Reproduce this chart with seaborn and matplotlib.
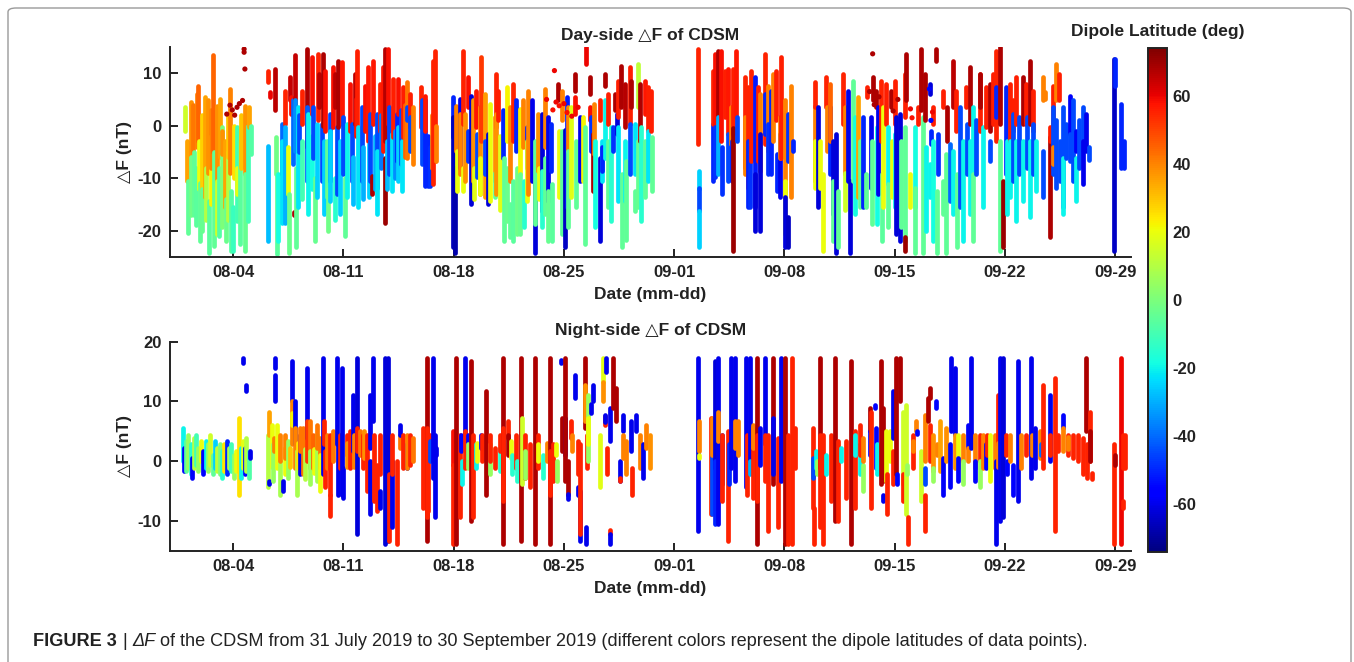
import numpy as np
import pandas as pd
import matplotlib
matplotlib.use("Agg")
import matplotlib.pyplot as plt
from matplotlib.colors import Normalize
from matplotlib.cm import ScalarMappable
from matplotlib.patches import FancyBboxPatch
import seaborn as sns

# ---------------- data (t = days since 2019-07-31, dF low, dF high, dipole latitude) ----------------
day_A = [
    (0.95, -1, 3.5, 15), (1.10, -10.5, -3, 35), (1.12, -20.4, -10.5, -5), (1.30, -10, 4.5, 38), (1.32, -17, -6, -2),
    (1.48, -5, 4, 42), (1.50, -17, -5, -5), (1.65, -19, -8, -6), (1.68, -4, 6, 40), (1.80, -3, 7.6, 45),
    (1.85, -12, -3, 20), (1.88, -22, -11, -5), (2.00, -13, 2, 28), (2.05, -20, -12, -4), (2.22, -13.7, 5.4, 35),
    (2.30, -18, -8, 10), (2.43, -9, 4.8, 38), (2.45, -24.2, -14.3, -6), (2.60, -15, -2, 22), (2.62, -8, 3, 40),
    (2.75, -5, 13.4, 45), (2.78, -23, -5, -5), (2.96, -10.5, 3.8, 38), (2.98, -20.7, -10.5, 15), (3.12, -21, -8, -7),
    (3.15, -6, 5, 35), (3.28, -19.4, -0.3, 0), (3.30, -5.4, -1, 38), (3.49, -15.6, -2.9, 35), (3.52, -22, -14, -3),
    (3.65, -18, -5, 10), (3.68, -6, 2, 30), (3.81, -9, 7, 40), (3.84, -24, -12.4, -7), (4.02, -23.9, -15.6, -12),
    (4.05, -10, 0, 25), (4.23, -18.2, -0.3, -10), (4.25, -13, -8, 18), (4.44, -22.6, -2.9, -6), (4.50, -8, 2, 30),
    (4.76, -9.2, 3.8, 38), (4.78, -23.9, -9.2, -4), (4.97, -18.2, 0, -10), (4.99, -0.3, 3.5, 35), (5.14, -5.4, 0, -7),
]
day_B = [
    (6.24, 8.3, 10.5, 55), (6.24, -22.0, -3.8, -28), (6.34, 5.5, 6.5, 60), (6.66, 2.9, 10.8, 66), (6.70, -9.2, -2.2, -2),
    (6.77, -24.5, -9.2, -6), (6.87, -22.0, -9.2, -18), (7.08, -9.2, 0.3, -40), (7.10, -18.5, -2.9, -22), (7.29, 0.3, 6.7, 55),
    (7.31, -18.5, -0.3, -30), (7.51, -13.1, -4.1, 20), (7.53, -24.2, -13.1, -3), (7.61, 4.8, 9.2, 65), (7.65, 2.2, 5.4, 58),
    (7.82, -7.3, 4.8, -40), (7.85, -17.0, -16.5, 68), (7.93, 3.5, 13.4, 65), (7.95, -4.8, 4.8, -35), (7.97, -23.2, -8.0, -5),
    (8.14, -15.6, 3.5, -22), (8.18, -5, 2, -45), (8.35, 0.3, 6.7, 55), (8.40, -14, -3, -10), (8.67, -4.1, 14.6, 68),
    (8.69, -10.5, 3.5, -42), (8.77, -16.9, 2.2, -20), (8.99, 2.2, 13.1, 58), (9.03, -12, -2, -18), (9.09, -6.1, 3.5, -45),
    (9.20, -22, -10, -4), (9.30, -13.7, 0.3, -25), (9.41, 1.0, 13.7, 55), (9.43, 3.5, 9.9, 66), (9.62, -10.5, 0.3, -45),
    (9.73, 0.0, 13.7, 68), (9.75, -16.9, -2.9, -25), (9.83, -1.0, 10.5, 58), (9.94, -13.7, -2.9, -5), (10.05, -20, -12, -2),
    (10.15, -10.5, 2.2, -45), (10.17, -14.3, -1.0, -25), (10.36, -0.3, 11.1, 58), (10.47, 3.5, 9.9, 66), (10.50, -18, -10, -15),
    (10.57, -13.1, -0.3, -45), (10.68, -0.3, 12.4, 68), (10.78, -16.9, -2.9, -25), (10.89, 0.3, 12.1, 57), (10.99, -9.2, 1.6, -45),
    (11.10, -21, -10, -5), (11.21, -13.7, 0.3, -20), (11.42, -1.0, 8.0, 58), (11.52, -10.5, 0.3, -45), (11.62, -15, -6, -28),
    (11.73, 0.3, 9.9, 66), (11.78, -2, 5, 58), (11.84, -1.6, 14.3, 56), (11.95, -15.6, -0.3, -22), (12.16, -10.5, 3.5, -45),
    (12.25, -14, -4, -30), (12.37, -1.0, 7.6, 58), (12.58, -2.9, 11.1, 57), (12.60, -13.7, -3.5, -25), (12.68, -10.5, 2.2, -45),
    (12.79, -13.1, -9.6, 68), (12.90, 0.3, 12.4, 57), (13.00, -12, -2, -30), (13.11, -11.8, 2.2, -45), (13.13, -16.9, -4.8, -22),
    (13.32, -1.0, 8.0, 56), (13.42, -8, 2, -38), (13.53, -4.8, 11.1, 57), (13.64, -2.9, 14.6, 67), (13.66, -18.5, -6.1, 70),
    (13.75, -12, -3, -28), (13.85, 0.3, 14.6, 58), (13.88, -9.2, 3.5, -45), (14.06, -12.4, -1.6, -22), (14.16, -2.2, 8.9, 56),
    (14.27, -10, -1, -35), (14.38, -6.7, 2.2, -50), (14.48, 2.2, 8.9, 58), (14.50, -10.5, -0.3, -25), (14.69, -7.3, 2.9, -45),
    (14.72, -12.4, -2.9, -22), (14.80, -2.2, 7.3, 56), (14.90, -6, 4, 45), (15.01, -6.1, 8.3, 42), (15.05, 1, 3.5, -45),
    (15.22, -0.3, 6.1, 56), (15.25, -4.8, 1.6, -45), (15.39, -7.3, 3.5, 40), (15.96, -0.3, 7.3, 55), (15.98, -7.3, 4.8, -45),
    (16.17, -11.5, 4.8, -50), (16.19, -1.0, 5.7, 57), (16.38, -11.5, -2.0, -50), (16.49, -11.5, -4.1, -48), (16.60, -8, 2, 40),
    (16.70, -11.1, 12.4, 55), (16.81, -6.7, 14.3, 55), (16.91, -6.7, 0.0, 40),
]
day_C = [
    (17.93, -2.2, 5.4, -50), (17.97, -23.2, 1.6, -66), (18.08, -24.2, -8.0, -68), (18.18, -4.8, 3.8, 40), (18.20, -12.4, -4.8, 20),
    (18.39, -8.0, 5.0, -60), (18.42, -9.2, 2.2, 40), (18.60, 0.3, 14.3, 55), (18.62, -12.4, -8.0, 20), (18.71, -10.5, 2.2, 38),
    (18.92, 3.5, 9.2, 58), (18.94, -6.7, -1.0, -48), (19.13, -15.0, 5.7, -63), (19.24, -10.5, 4.8, 38), (19.30, -14, -8, 18),
    (19.45, -0.3, 6.7, 57), (19.47, -9.8, -1.6, -45), (19.66, -13.1, 3.5, 38), (19.70, -13.1, -6.1, 20), (19.77, -2.9, 13.1, 52),
    (19.98, -13.7, 6.1, 36), (20.00, -9.2, -2.9, -45), (20.19, -15.0, -1.6, -62), (20.30, -14.3, 4.2, 20), (20.61, -10.5, 1.6, 38),
    (20.63, -13.7, -9, -5), (20.70, -0.3, 9.9, 55), (20.72, -13.1, 2.2, 38), (20.82, 1.0, 6.7, 56), (20.94, -16, -2, 18),
    (21.15, -6.1, 2.9, -50), (21.17, -22.0, -6.1, -5), (21.36, -2.9, 7.3, 22), (21.38, -18.2, -8.0, -3), (21.57, -10.5, 3.5, 40),
    (21.60, -21.3, -15.0, -5), (21.78, -2.9, 8.0, 55), (21.80, -22.0, -10.5, -6), (21.99, -4.8, 4.8, -50), (22.01, -20.7, -8.0, -2),
    (22.21, -9.2, 3.2, 22), (22.23, -20.7, -9.2, -4), (22.42, -4.1, 4.8, 40), (22.44, -19.4, -10.5, -15), (22.63, -8.0, -0.3, -50),
    (22.65, -14.3, -2.9, 20), (22.73, -13.1, 6.7, 40), (22.95, -10.5, 4.8, -60), (23.16, -24.2, -10.8, -62), (23.18, -18.8, -2.9, -5),
    (23.37, -8.6, 2.2, 38), (23.40, -14, -8, 20), (23.58, -16.2, 2.2, -62), (23.60, -19.4, -8.6, -15), (23.79, -4.1, 7.0, 40),
    (23.81, -16.9, -6.1, -5), (24.00, -14.3, 1.6, -60), (24.02, -22.0, -12.4, -4), (24.21, -8.6, 0.3, -50), (24.23, -22.0, -11.1, -6),
    (24.64, 4.8, 8.0, 68), (24.66, -13.7, -1.0, 20), (24.85, -20.7, -1.0, -6), (24.87, 1.0, 6.7, 40), (25.06, -23.2, -0.9, -65),
    (25.17, -15.6, 5.4, -52), (25.27, -4.8, 3.5, 40), (25.29, -19.4, -4.8, -5), (25.48, -13.7, 3.5, 18), (25.69, 6.7, 9.9, 68),
    (25.71, 2.2, 5.4, 58), (25.80, -15.6, -2.9, -5), (26.01, -10.5, 1.6, -60), (26.22, -10.5, 1.6, 22), (26.33, -22.6, -0.3, -5),
    (26.43, 11.8, 15.0, 60), (26.65, 6.1, 9.2, 68), (26.67, 1.0, 3.5, 58), (26.69, -4.8, 1.6, -48), (26.86, -12.4, -1.6, 68),
    (26.88, -5.4, 4.2, 40), (26.96, -19.4, -2.9, -18), (27.28, -22.0, -6.1, -62), (27.30, 1.0, 4.8, 56), (27.39, -10.5, -2.9, -22),
    (27.41, -8.6, -4.1, -50), (27.60, 7.6, 9.9, 68), (27.62, -6.1, 4.8, -20), (27.81, -15.6, -2.9, -5), (27.83, 0.3, 6.1, 56),
    (28.02, -18.2, -0.3, -15), (28.13, -4.8, -0.3, -48), (28.23, 3.0, 6.1, 68), (28.34, -1.6, 2.2, -62), (28.44, 1.6, 8.6, 56),
    (28.46, -14.3, -0.3, -22), (28.65, 3.5, 11.4, 68), (28.67, -23.2, -9.2, -5), (28.87, -0.3, 8.0, 67), (28.89, -14.3, -2.9, -20),
    (28.97, -21.9, -6.7, -5), (29.18, 0.3, 11.1, 56), (29.20, -9.2, 0.3, -45), (29.29, 3.5, 8.6, 68), (29.50, -9.2, 0.3, -22),
    (29.52, -16.2, -12.4, -5), (29.71, 3.5, 11.8, 12), (29.73, -15.6, -2.9, -4), (29.82, -2.9, 8.0, 68), (29.92, -18.2, -0.3, -15),
    (30.13, 2.2, 8.6, 57), (30.15, -13.7, -2.9, -5), (30.35, -1.0, 7.3, 56), (30.37, -10.5, -1.0, -22), (30.56, -1.0, 6.7, 56),
    (30.58, -12.4, -2.2, -5),
]
day_D = [
    (33.52, -3.5, 14.6, 55), (33.56, -12.0, -8.6, -25), (33.57, -16.2, -11.8, -45), (33.58, -23.2, -16.2, -25), (34.47, -10.5, 0.3, -50),
    (34.49, 0.3, 10.5, 55), (34.57, -0.3, 13.7, 58), (34.59, -9.8, -0.3, -48), (34.79, 1.0, 14.3, 68), (34.81, -9.2, 1.6, -30),
    (35.00, -2.9, 14.3, 58), (35.02, -13.1, -4.1, -48), (35.21, 1.6, 10.5, 56), (35.42, -1.6, 10.8, 57), (35.44, -10.5, -1.6, -45),
    (35.63, -3.5, 3.5, 40), (35.65, -10.5, -2.9, -50), (35.74, -1.6, 10.8, 56), (35.76, -23.9, -0.4, 70), (35.95, 1.6, 14.3, 57),
    (35.97, -2.9, 1.6, -45), (36.48, -8.0, 9.2, 55), (36.50, -9.2, 1.6, 40), (36.69, -11.8, 7.3, 55), (36.71, -15.6, -2.9, -50),
    (36.79, -15.6, -2.9, -48), (36.90, -6.7, 10.5, 55), (37.11, -15.6, 9.2, -52), (37.13, -20.1, -9.2, -62), (37.32, -6.7, 7.3, 56),
    (37.43, -8.6, 6.1, 40), (37.45, -20.1, -1.6, -62), (37.74, -3.5, 13.7, 55), (37.76, -1.6, 6.1, -50), (37.96, -4.8, 7.6, 40),
    (37.98, -9.2, 0.3, -48), (38.17, -9.2, 6.7, -50), (38.27, -2.9, 9.9, 40), (38.49, 1.0, 10.5, 56), (38.51, -12.4, -5.4, -50),
    (38.70, -13.7, -1.6, -60), (38.72, -6.1, 1.6, 40), (38.80, -6.1, 13.1, 56), (39.01, -13.7, 4.8, 40), (39.03, -20.7, -10.5, 20),
    (39.05, -23.2, -13.7, -62), (39.22, -23.2, -17.5, -65), (39.24, -6.7, 2.2, -48), (39.44, -13.7, 7.6, 40), (39.54, -4.8, -2.9, -50),
]
day_E = [
    (40.92, -10.5, 3.8, 40), (40.94, -11.8, -2.9, 20), (40.96, 3.5, 8.3, 55), (41.13, -15.6, 3.5, -62), (41.24, -11.8, -2.9, 20),
    (41.45, -23.9, -9.2, 20), (41.66, 3.5, 9.2, 55), (41.68, -4.8, 3.5, 40), (41.87, -9.2, 3.5, -50), (41.89, -2.9, 7.9, 45),
    (42.08, -16.9, -2.9, -62), (42.10, -22.0, -10.5, -5), (42.30, -24.2, -1.6, -62), (42.40, -23.2, -12.4, -5), (42.72, 0.3, 9.9, 55),
    (42.82, -9.2, 3.5, 40), (42.84, -16, -9, 15), (43.04, -10.5, 6.7, -60), (43.14, -24.2, -10.5, -62), (43.35, -10.5, 8.6, -5),
    (43.46, -16.9, 1.6, -18), (43.67, -13.7, 5.4, 35), (43.78, -15.6, -2.9, -5), (43.99, -15.6, 1.6, -50), (44.20, -15.6, -9.2, -5),
    (44.22, 5.4, 7.3, 56), (44.52, -11.8, 1.6, -60), (44.54, -18.8, -2.9, -5), (44.64, 4.8, 9.2, 68), (44.83, 3.5, 6.7, 68),
    (44.85, -18.8, -0.3, -18), (44.94, -13.1, 3.5, -60), (45.15, -2.9, 8.6, 55), (45.17, -22.0, -9.2, -6), (45.26, -15.6, 3.5, 20),
    (45.47, 0.3, 8.0, 56), (45.57, -11.1, -0.3, -20), (45.59, -19.4, -11.1, -5), (45.78, 3.5, 6.7, 68), (45.80, -13.7, -2.9, 20),
    (46.00, 0.3, 8.6, 56), (46.02, -15.6, -1.6, -20), (46.10, -20.7, 1.6, -62), (46.31, -22.0, 2.2, -62), (46.42, -19.4, -2.9, -5),
    (46.63, 1.6, 9.9, 56), (46.65, -22.0, -0.3, -5), (46.67, -23.9, -21.3, 70), (46.74, 4.8, 13.7, 68), (46.95, -15.6, -9.2, 20),
    (47.26, -15.6, -0.3, -18), (47.28, -24.2, -11.8, -5), (47.48, 0.3, 3.5, 56), (47.69, 2.9, 14.6, 68), (47.79, -24.2, 1.6, -5),
    (47.90, 1.0, 9.9, 68), (48.00, -20.1, -4.1, -20), (48.22, 6.1, 8.0, -62), (48.24, -13.7, -7.3, -20), (48.32, -3.5, -1.0, -50),
    (48.43, 0.3, 3.5, 56), (48.45, -22.0, -2.9, -18), (48.64, 12.4, 14.6, 68), (48.66, -24.2, -12.4, -5), (48.74, -9.2, -1.6, -48),
    (49.06, 3.5, 6.7, 56), (49.08, -16.9, -10.5, -5), (49.27, -24.2, -5.4, -5), (49.29, -2.9, 3.5, 68), (49.48, -14.3, -3.5, -40),
    (49.70, 3.5, 12.4, 66), (49.72, -16.9, -4.8, -20), (49.91, -1.0, 6.7, 56), (49.93, -23.2, -9.2, -5), (50.12, -15.6, 3.5, -45),
    (50.33, -22.0, -2.9, -20), (50.54, 3.5, 7.3, 56), (50.56, -9.2, 0.3, -45), (50.75, 0.3, 11.1, 68), (50.77, -16.9, -2.9, -20),
    (50.96, -9.2, 3.5, -20), (50.98, -22.0, -9.2, -5), (51.18, -9.2, 1.0, -45), (51.39, -1.0, 9.9, 56), (51.41, 3.5, 9.9, 68),
    (51.60, -15.6, -0.3, -20), (51.81, -0.3, 7.3, 56), (52.02, -1.0, 8.0, 68), (52.04, -6.7, -3.0, -45), (52.23, 0.3, 9.9, 56),
    (52.44, -2.9, 14.3, 55), (52.46, 1.6, 7.3, -50), (52.66, 0.3, 15.0, 68), (52.68, -23.9, -2.9, -5), (52.87, -23.2, -10.5, 70),
    (53.08, -9.2, 7.3, -50), (53.10, -16.9, -2.9, -20), (53.29, -2.9, 8.0, 56), (53.31, -13.7, -2.9, -20), (53.50, -1.0, 4.8, 56),
    (53.52, -10.5, 2.2, -45), (53.71, 0.3, 9.2, 56), (53.73, -18.2, -2.9, -20), (53.92, -9.2, 1.6, -45), (54.13, 0.3, 9.2, 68),
    (54.15, -14.3, -2.9, -20), (54.35, 0.3, 8.0, 56), (54.37, -8.0, 1.6, -45), (54.56, 0.3, 12.4, 68), (54.58, -17.5, -2.9, -20),
    (54.77, -1.0, 6.7, 56), (54.79, -9.2, 0.3, -45), (54.98, -12.4, -2.9, -20), (55.40, 4.8, 9.2, 40), (55.42, -13.7, -4.8, -45),
    (55.51, 5.0, 6.5, 40), (55.83, -21.3, -2.2, 68), (55.85, -2.9, -0.3, 56), (56.04, -1.0, 7.6, 56), (56.06, -9.2, 3.5, -45),
    (56.08, -7.3, -4.1, 40), (56.25, 4.8, 11.8, 40), (56.27, -11.8, 1.0, -45), (56.46, 4.8, 9.9, 56), (56.48, -10.5, -2.9, -45),
    (56.67, -15.6, 3.5, -45), (56.69, -16.9, -6.1, -20), (56.88, -6.1, 0.3, -45), (57.10, -1.6, 5.7, -58), (57.12, -6.7, -1.6, -45),
    (57.31, -10.5, 4.8, -45), (57.52, -4.8, -1.0, -58), (57.54, -14.3, -6.1, -20), (57.73, -8.0, 1.0, -45), (57.94, -4.8, 3.5, -45),
    (57.96, -11.1, -2.9, -60), (58.15, -4.8, 2.2, -60), (58.36, -6.5, -4.1, -45),
]
day_F = [(59.95, -24.0, 12.7, -65), (59.96, 7.6, 12.7, -50), (60.37, -8.0, 4.2, -50), (60.58, -8.0, -3.0, -50)]

# isolated points (t, dF, latitude)
day_dots = [
    (3.60, 2.2, 68), (3.80, 3.9, 68), (3.95, 3.0, 68), (4.10, 2.0, 68), (4.25, 3.5, 68), (4.40, 4.2, 68), (4.60, 4.8, 68),
    (4.70, 14.0, 68), (4.70, 14.6, 68), (4.75, 10.8, 68), (24.3, 3.0, 58), (24.5, 4.5, 60), (24.7, 3.8, 58), (25.0, 4.2, 60),
    (25.2, 2.5, 58), (25.5, 1.8, 60), (25.9, 3.5, 60), (24.4, 10.5, 60), (23.9, 5.0, 60), (44.4, 6.5, 68), (44.7, 4.0, 68),
    (45.0, 5.5, 68), (45.9, 2.8, 68), (46.2, 5.0, 68), (44.6, 13.7, 68), (47.0, 3.2, 60), (47.1, 1.5, 58), (48.4, 2.6, 60),
    (48.2, 7.0, -55), (48.3, 1.0, -55),
]

night_A = [
    (0.85, 0, 5.6, -20), (0.88, -1.7, 2.2, -55), (1.00, -1.7, 3.3, -5), (1.15, -1.1, 4.4, 5), (1.30, -2.2, 2.8, -15),
    (1.40, -2.8, 0.6, -58), (1.50, -1.1, 3.9, 10), (1.65, -0.6, 4.4, -10), (1.80, -1.7, 2.2, 5), (1.95, 0, 3.3, 20),
    (2.10, -2.2, 1.7, -55), (2.25, -1.1, 3.3, -20), (2.40, -1.7, 2.8, 5), (2.55, -0.6, 4.4, 15), (2.70, -2.2, 1.1, -5),
    (2.85, -1.1, 3.3, -25), (3.00, -1.7, 2.2, 12), (3.15, -2.2, 2.8, 0), (3.30, -2.8, 1.7, -15), (3.45, -1.7, 2.8, 25),
    (3.60, -2.2, 3.3, -50), (3.75, -1.1, 2.2, 8), (3.90, -1.7, 2.8, -10), (4.05, -2.8, 1.1, 5), (4.20, -1.7, 1.7, 20),
    (4.35, -5.6, 7.2, 25), (4.50, -2.8, 2.2, -20), (4.60, -1.1, 3.3, 18), (4.65, 16.4, 17.2, -60), (4.75, -2.2, 2.2, -55),
    (4.80, 11.7, 12.8, -60), (4.85, -1.7, 3.9, 10), (5.00, -2.8, 1.7, -8), (5.10, 0.6, 1.7, -60),
]
night_B = [
    (6.24, -4.4, 4.4, 10), (6.26, 4.4, 8.3, 35), (6.28, -3.9, -3.3, -60), (6.45, -1, 6.1, 20), (6.55, -3.3, 2.8, 5),
    (6.60, 1.7, 3.9, 40), (6.66, 15.6, 17.2, -60), (6.68, 10.0, 14.4, -60), (6.77, -1.1, 6.1, 20), (6.98, -5.6, 0.0, 8),
    (7.00, 0.0, 4.4, 40), (7.19, -5.0, -3.3, -60), (7.29, -2.2, 2.2, 20), (7.31, 0.6, 4.4, 40), (7.51, -2.8, 3.3, 5),
    (7.60, -1, 2.2, 30), (7.72, 10.0, 16.7, -60), (7.74, 2.8, 10.0, 40), (7.76, 6.0, 8.0, 22), (7.93, 2.8, 10.0, -60),
    (7.95, -1.1, 5.6, 40), (8.03, -5.6, 1.7, 8), (8.15, -1.1, 3.0, 25), (8.25, -2.2, 4.4, -60), (8.27, 1.7, 5.6, 42),
    (8.46, -2.2, 5.6, 42), (8.55, -3, 2, 10), (8.67, 3.9, 15.6, -60), (8.69, 0.0, 6.7, 52), (8.88, -1.1, 6.7, 42),
    (8.90, -3.9, 1.7, 6), (9.09, -1.1, 4.4, 45), (9.11, -2, 2, 20), (9.30, -3.3, 4.4, 8), (9.32, 2.2, 6.1, 42),
    (9.51, -1.1, 3.9, 42), (9.53, -5.0, 1.1, 20), (9.73, -2.2, 17.2, -60), (9.75, 2.8, 6.7, 55), (9.83, -4.4, 1.7, 55),
    (9.94, -1.1, 4.4, 42), (10.15, -5.6, 4.4, 55), (10.17, -9.2, -5.6, 55), (10.36, 0.0, 5.0, 42), (10.57, 2.8, 17.2, -60),
    (10.68, -5.6, 2.8, -60), (10.78, -1.1, 4.4, 55), (10.89, -5.6, 15.6, -60), (10.99, -6.1, -1.1, -60), (11.21, 1.1, 4.4, 55),
    (11.23, -1, 3, 38), (11.42, -1.1, 5.0, 55), (11.63, 1.7, 11.1, -60), (11.65, -1.0, 4.4, 40), (11.84, -12.2, 17.2, -62),
    (11.86, 1.7, 5.6, 55), (12.05, 1.1, 5.0, 42), (12.26, -1.1, 4.4, 55), (12.28, 0.6, 5.0, 38), (12.47, -5.0, 4.4, 55),
    (12.68, 2.2, 11.1, -60), (12.70, -8.9, 0.0, -60), (12.90, 6.7, 17.2, -60), (12.92, -6.7, 4.4, 55), (13.11, -8.3, -0.6, 55),
    (13.32, -2.2, 4.4, 55), (13.34, -7.8, -5.0, -60), (13.64, -13.9, 17.2, -62), (13.85, -13.3, 17.2, -62), (13.87, -13.3, -2.2, 55),
    (14.06, -11.1, 0.0, -60), (14.08, -2.2, 4.4, 55), (14.38, -13.9, 0.0, 55), (14.59, 2.2, 4.4, 42), (14.61, 4.4, 6.1, -60),
    (14.80, -1.1, 4.4, 55), (15.01, -1.1, 2.8, -60), (15.03, -1.1, 4.4, 40), (15.22, -0.6, 4.4, 55), (15.43, 0.0, 3.9, 42),
    (16.07, -7.8, 5.6, 55), (16.28, -13.3, 17.2, 68), (16.30, -9.4, 5.6, 55), (16.38, -8.3, 1.7, 55), (16.49, 1.1, 4.4, 55),
    (16.51, 0.0, 3.3, -45), (16.70, -2.8, 17.2, -60), (16.81, -9.4, 4.4, -60), (16.91, 1.1, 2.2, -60),
]
night_C = [
    (17.97, -0.6, 5.0, 58), (17.99, -13.9, -0.6, 55), (18.18, -13.9, 17.2, 68), (18.39, -9.4, 4.4, 55), (18.50, 1.7, 4.4, -55),
    (18.52, -3.9, 0.0, -20), (18.71, 4.4, 17.2, -60), (18.73, -1.1, 5.0, 55), (18.92, 0.0, 4.4, -55), (18.94, -1.1, 2.8, 5),
    (19.13, -10.0, 16.7, 68), (19.24, -9.4, 4.4, 55), (19.45, -1.1, 2.8, -20), (19.47, 0.0, 3.0, 20), (19.77, 2.2, 4.4, -55),
    (19.79, 0.0, 4.4, 55), (20.08, -5.6, 11.7, 68), (20.30, -2.2, 2.8, 5), (20.32, 0.0, 4.4, 55), (20.61, -1.1, 2.2, 55),
    (20.93, -1.7, 2.2, -15), (20.95, 1.7, 4.4, 55), (21.14, -13.9, 17.2, 68), (21.16, -6.7, 5.6, 55), (21.46, 3.9, 6.7, 55),
    (21.48, 1.1, 4.4, 68), (21.67, 0.6, 3.3, 20), (21.69, -2.2, 1.1, -15), (21.99, -1.1, 4.4, 55), (22.01, -3.3, 0.0, -15),
    (22.30, -13.3, 17.2, 68), (22.32, -3.9, 7.2, 15), (22.52, -2.8, 4.4, 55), (22.54, -2.8, 1.7, 5), (22.83, -4.4, 2.8, 55),
    (23.15, -13.9, 17.2, 68), (23.36, -1.1, 4.4, 55), (23.38, 0.0, 2.8, 20), (23.68, -2.8, 1.1, -15), (23.90, 0, 3, 40),
    (24.10, -13.9, 17.2, 68), (24.12, -5.6, 1.7, 55), (24.31, -3.3, 2.8, 55), (24.52, 1.1, 2.8, 20), (24.54, -3.3, 0.0, 5),
    (24.84, 16.4, 17.0, -60), (24.86, 1.7, 7.2, 68), (25.05, 1.1, 7.2, -60), (25.07, -3.3, 17.2, 68), (25.26, -5.6, 0.0, 68),
    (25.28, -6.3, -5.5, -60), (25.48, 3.9, 6.7, 55), (25.50, 1.7, 4.4, 40), (25.69, 10.6, 14.4, -60), (25.90, -2.2, 3.3, 55),
    (25.92, -5.6, -4.4, -60), (26.00, -13.3, -5.0, -60), (26.02, -12.2, 2.8, 55), (26.32, 5.6, 17.2, 68), (26.34, 6.7, 12.8, 38),
    (26.43, -13.9, -11.1, -60), (26.45, -1.1, 4.4, 55), (26.53, 0.0, 11.1, 5), (26.55, 2.8, 7.2, 20), (26.74, 8.0, 9.5, -60),
    (26.85, 10.0, 12.8, -60), (27.27, -4.4, 4.4, 18), (27.48, 13.3, 17.2, 18), (27.50, 10.0, 13.3, 38), (27.59, 6.1, 7.5, 55),
    (27.61, 6.5, 7.8, -60), (27.70, 15.0, 17.2, -60), (27.72, -2.2, 2.2, 55), (27.91, 3.3, 8.9, -60), (27.93, -12.2, -11.5, 55),
    (27.95, -13.9, -12.2, -60), (28.12, 8.9, 17.2, 68), (28.33, 6.7, 12.2, 68), (28.54, -3.3, 0.0, -60), (28.56, -3.3, -2.8, 55),
    (28.75, 5.0, 7.8, -60), (28.77, 0.6, 4.4, 40), (28.96, -2.2, 3.3, 40), (29.28, 1.7, 6.7, -60), (29.30, -5.6, -1.1, 55),
    (29.60, 5.0, 7.8, -60), (29.81, -1.1, 4.4, 40), (30.02, -2.8, 2.8, -60), (30.23, 2.2, 6.1, 40), (30.45, -1.1, 4.4, 38),
]
night_D = [
    (33.53, -11.7, 17.2, -60), (33.55, 1.7, 6.7, 40), (33.57, 0.6, 1.1, 20), (34.37, -8.9, 7.2, 55), (34.39, -8.9, 4.4, -45),
    (34.41, 1.1, 7.2, 40), (34.58, -1.1, 16.7, -62), (34.60, -10.6, 0.0, -50), (34.79, -10.6, 17.2, -60), (34.81, 3.3, 8.3, 40),
    (35.01, -3.9, 4.4, -50), (35.03, -6.7, 4.4, 55), (35.43, -13.3, 5.0, 55), (35.45, -3.9, 2.8, -50), (35.64, -1.1, 17.2, -60),
    (35.85, -3.3, 17.2, -60), (35.87, 2.2, 6.7, 40), (36.06, 1.1, 6.7, 40), (36.59, -4.4, 17.2, -60), (36.61, -5.6, 4.4, 55),
    (36.80, 0.0, 17.2, -60), (36.82, -2.2, 0.0, -30), (37.01, -6.1, 5.6, 55), (37.03, 2.2, 6.1, 40), (37.23, -13.9, 17.2, 68),
    (37.25, -6.7, 4.4, 55), (37.44, -0.6, 5.6, -60), (37.75, 2.8, 17.2, -60), (37.77, -3.3, 4.4, 55), (37.97, -11.7, 4.4, 55),
    (38.28, -3.9, 17.2, 68), (38.30, -2.2, 7.2, -60), (38.60, -11.1, 3.9, 55), (38.81, -3.3, 17.2, -60), (39.02, -13.9, 17.2, 68),
    (39.23, -13.9, 4.4, 55), (39.45, -13.9, 17.2, 55), (39.66, -1.1, 5.6, 55),
]
night_E = [
    (40.82, -7.8, 5.6, 55), (40.84, -2.8, 0.6, -45), (40.86, -13.9, -7.8, 55), (41.03, -1.1, 1.7, -20), (41.05, -2.2, 0.0, 5),
    (41.24, -1.1, 17.2, 68), (41.26, -11.1, 4.4, 55), (41.45, -13.9, 4.4, 55), (41.67, -2.2, 1.1, -20), (41.98, -6.7, 4.4, 55),
    (42.19, -10.0, 17.2, 68), (42.41, -10.0, 3.3, 55), (42.62, 0.0, 2.2, -20), (42.93, -6.1, 3.3, 55), (43.25, -13.9, 16.7, 68),
    (43.46, -7.8, 5.0, 55), (43.48, 1.1, 4.4, -20), (43.78, -2.2, 2.8, -20), (43.80, 1.1, 6.1, 55), (43.99, -5.0, -0.6, 5),
    (44.01, 0.0, 3.9, 40), (44.41, 5.0, 8.9, 68), (44.43, 1.1, 5.0, -55), (44.52, -7.8, 8.3, 55), (44.73, 8.9, 9.4, -55),
    (44.84, -1.1, 5.6, -55), (44.86, -2.2, 2.8, -20), (45.15, -3.9, 16.7, 68), (45.26, -6.7, -5.6, -60), (45.28, -3.3, 8.9, 68),
    (45.47, -3.3, 5.0, 20), (45.49, -8.9, -2.2, 55), (45.68, 0.0, 5.0, 20), (45.89, 3.9, 11.7, -60), (45.91, -3.9, 1.7, 55),
    (46.10, -2.2, 17.2, 68), (46.12, -3.9, -2.2, -55), (46.32, 10.0, 17.2, 68), (46.53, -3.9, 8.3, 15), (46.55, -6.7, -2.2, 55),
    (46.74, -8.9, 9.4, 15), (46.76, -2.2, -0.6, 5), (46.84, -13.9, -9.4, 55), (47.16, -1.1, 4.4, 55), (47.18, 1.7, 3.3, 40),
    (47.37, 5.0, 6.7, 40), (47.39, 4.5, 5.0, -55), (47.69, -6.7, 1.7, 15), (47.90, 0.0, 7.8, 40), (47.92, -11.7, -5.6, 55),
    (47.94, -3.9, -1.1, -45), (48.11, 6.7, 10.6, 68), (48.22, 10.6, 12.2, 68), (48.24, 0.0, 6.1, 55), (48.43, -1.7, 4.4, 38),
    (48.45, -3.3, -1.1, 5), (48.64, 8.9, 10.0, -55), (48.66, 1.1, 2.8, 40), (48.85, -1.7, 6.7, 35), (49.06, -5.6, 0.6, -58),
    (49.28, 0.0, 5.6, 38), (49.49, -4.4, 2.8, -58), (49.59, 5.0, 17.2, -60), (49.80, 4.4, 15.6, -60), (49.82, -1.1, 4.4, 38),
    (50.02, -1.1, 4.4, 20), (50.04, -3.3, 0.6, -55), (50.33, 0.0, 4.4, 40), (50.35, -3.9, 0.0, 5), (50.65, 2.2, 6.1, -58),
    (50.67, 0.0, 2.2, 40), (50.86, 2.2, 17.2, -60), (51.07, -1.1, 4.4, 40), (51.09, -3.3, 0.0, -55), (51.39, 0.0, 4.4, 55),
    (51.41, -4.4, 0.0, 5), (51.60, -1.1, 4.4, 40), (51.81, -1.1, 2.8, -55), (51.83, 1.1, 4.4, 55), (52.02, -3.3, 4.4, 20),
    (52.34, -1.1, 4.4, 40), (52.45, -13.9, 0.0, -60), (52.55, 2.8, 11.1, 55), (52.57, -1, 3, 40), (52.66, -10.0, 17.2, -60),
    (52.87, -9.4, 17.2, -62), (53.08, 1.1, 4.4, 55), (53.10, -2.2, 0.0, -55), (53.29, 0.0, 4.4, 40), (53.50, -5.6, -0.6, -55),
    (53.82, -6.7, 16.7, -60), (54.03, -1.1, 4.4, 40), (54.35, 1.1, 4.4, 55), (54.67, -2.8, 17.2, -60), (54.69, 1.1, 4.4, 40),
    (54.88, -1.1, 5.6, -60), (55.20, 0.6, 5.0, 40), (55.30, 1.1, 2.8, -40), (55.41, -1.1, 12.8, 55), (55.83, 0.0, 11.1, -60),
    (55.85, 1.1, 4.4, 55), (56.15, -11.7, 13.9, 55), (56.36, 1.7, 4.4, 55), (56.68, 5.6, 7.8, -55), (56.70, 1.7, 5.6, 40),
    (56.99, 1.1, 4.4, 55), (57.01, 2.0, 4.0, 40), (57.31, 0.6, 4.4, 55), (57.63, 0.0, 4.4, 55), (57.94, -2.2, 3.9, 55),
    (58.16, 5.0, 17.2, 68), (58.18, -2.8, 2.8, 55), (58.37, 0.0, 8.3, 55), (58.39, 0.0, 5.0, 68), (58.50, -3, -2, 55),
]
night_F = [(59.95, -13.9, 2.8, 55), (59.97, -0.6, 1.1, 68), (60.38, -13.9, 17.2, 60), (60.48, -1.1, 4.4, 55),
           (60.50, -7.8, -6.7, 55), (60.59, -1.1, 4.4, 55)]

x_tick_labels = ["08-04", "08-11", "08-18", "08-25", "09-01", "09-08", "09-15", "09-22", "09-29"]
day_yticks = [-20, -10, 0, 10]
night_yticks = [-10, 0, 10, 20]
cbar_ticks = [-60, -40, -20, 0, 20, 40, 60]
lat_range = (-74, 74)
start_date = "2019-07-31"
end_date = "2019-09-30"

# ---------------- build frames ----------------
START = pd.Timestamp(start_date)


def streak_frame(parts):
    df = pd.DataFrame([r for p in parts for r in p], columns=["t", "lo", "hi", "lat"])
    df["date"] = START + pd.to_timedelta(df["t"], unit="D")
    return df


day_df = streak_frame([day_A, day_B, day_C, day_D, day_E, day_F])
night_df = streak_frame([night_A, night_B, night_C, night_D, night_E, night_F])
dots_df = pd.DataFrame(day_dots, columns=["t", "dF", "lat"])
dots_df["date"] = START + pd.to_timedelta(dots_df["t"], unit="D")

# ---------------- style ----------------
sns.set_style("ticks")
plt.rcParams["font.family"] = ["Liberation Sans", "DejaVu Sans"]
plt.rcParams["font.weight"] = "bold"
plt.rcParams["axes.labelweight"] = "bold"
plt.rcParams["axes.titleweight"] = "bold"
plt.rcParams["axes.unicode_minus"] = False

cmap = plt.get_cmap("jet")
norm = Normalize(*lat_range)
TXT = "#222222"

fig = plt.figure(figsize=(13.54, 6.62), dpi=100)
ax1 = fig.add_axes([0.1256, 0.6122, 0.7097, 0.3168])
ax2 = fig.add_axes([0.1256, 0.1681, 0.7097, 0.3157])
cax = fig.add_axes([0.8479, 0.1666, 0.0138, 0.7604])

tick_dates = [pd.Timestamp(f"2019-{lab}") for lab in x_tick_labels]

sns.scatterplot(data=dots_df, x="date", y="dF", hue="lat", palette=cmap, hue_norm=norm,
                s=14, linewidth=0, legend=False, ax=ax1, zorder=3)

panels = [
    (ax1, day_df, (-25, 15), day_yticks, "Day-side \u25b3F of CDSM"),
    (ax2, night_df, (-15, 20), night_yticks, "Night-side \u25b3F of CDSM"),
]
for ax, df, ylim, yticks, title in panels:
    lc = ax.vlines(df["date"], df["lo"], df["hi"], colors=cmap(norm(df["lat"].values)),
                   linewidth=3.4, zorder=2)
    lc.set_capstyle("round")
    ax.set_xlim(pd.Timestamp(start_date), pd.Timestamp(end_date))
    ax.set_ylim(*ylim)
    ax.set_yticks(yticks)
    ax.set_yticklabels([str(v) for v in yticks])
    ax.set_xticks(tick_dates)
    ax.set_xticklabels(x_tick_labels)
    for s in ["top", "right"]:
        ax.spines[s].set_visible(False)
    for s in ["left", "bottom"]:
        ax.spines[s].set_linewidth(1.4)
        ax.spines[s].set_color(TXT)
    ax.tick_params(direction="in", length=6, width=1.4, labelsize=12, pad=6, colors=TXT)
    ax.set_title(title, fontsize=12.5, fontweight="bold", pad=5, color=TXT)
    ax.set_xlabel("Date (mm-dd)", fontsize=12.5, fontweight="bold", labelpad=5, color=TXT)
    ax.set_ylabel("\u25b3F (nT)", fontsize=12.5, fontweight="bold", labelpad=4, color=TXT)

sm = ScalarMappable(norm=norm, cmap=cmap)
cb = fig.colorbar(sm, cax=cax, ticks=cbar_ticks)
cb.ax.tick_params(direction="in", length=5, width=1.2, labelsize=12, pad=4, colors=TXT)
cb.ax.set_yticklabels([str(v) for v in cbar_ticks])
cb.outline.set_linewidth(1.4)
cb.outline.set_edgecolor(TXT)
cax.set_title("Dipole Latitude (deg)", fontsize=12.5, fontweight="bold", pad=9, color=TXT)

# outer frame (bottom edge lies below the picture)
frame = FancyBboxPatch((8 / 1354, -0.05), 1343 / 1354, (654 / 662) + 0.05,
                       boxstyle="round,pad=0,rounding_size=0.006", transform=fig.transFigure,
                       facecolor="none", edgecolor="#9a9a9a", linewidth=1.0)
fig.patches.append(frame)

# caption: sized so that it spans from x=33 to x=1093 px
renderer = fig.canvas.get_renderer()
cap_y = 1 - 641 / 662
cap_parts = [("FIGURE 3", "bold", "normal", 5), ("|", "normal", "normal", 5), ("\u0394F", "normal", "italic", 4),
             ("of the CDSM from 31 July 2019 to 30 September 2019 (different colors represent the dipole latitudes of data points).",
              "normal", "normal", 0)]


def draw_caption(size):
    texts = []
    x = 33.0
    for s, w, st, gap in cap_parts:
        t = fig.text(x / 1354, cap_y, s, fontsize=size, fontweight=w, style=st, va="center", color=TXT)
        bb = t.get_window_extent(renderer)
        x = bb.x1 + gap * size / 12
        texts.append(t)
    return texts, x


texts, xend = draw_caption(12)
for t in texts:
    t.remove()
size = 12 * (1093 - 33) / (xend - 33)
draw_caption(size)

fig.savefig("out.png", dpi=100)
